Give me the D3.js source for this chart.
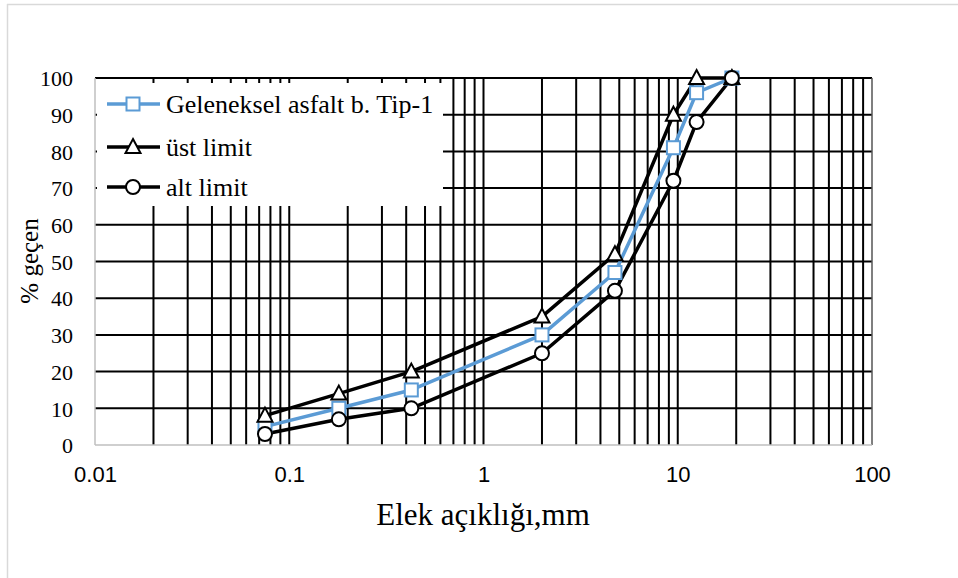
<!DOCTYPE html>
<html><head><meta charset="utf-8">
<script src="https://cdn.jsdelivr.net/npm/d3@7/dist/d3.min.js"></script>
<style>body{margin:0;background:#fff}svg{display:block}</style>
</head><body>
<svg id="c" width="958" height="578"></svg>
<script>
const sieves = [0.075, 0.18, 0.425, 2, 4.75, 9.5, 12.5, 19];
const geleneksel = [5, 10, 15, 30, 47, 81, 96, 100];
const ustLimit = [8, 14, 20, 35, 52, 90, 100, 100];
const altLimit = [3, 7, 10, 25, 42, 72, 88, 100];
const xTickLabels = ["0.01", "0.1", "1", "10", "100"];
const xTickValues = [0.01, 0.1, 1, 10, 100];
const yTickValues = [0, 10, 20, 30, 40, 50, 60, 70, 80, 90, 100];
const seriesNames = ["Geleneksel asfalt b. Tip-1", "üst limit", "alt limit"];

const svg = d3.select("#c");
const L = 95, R = 872, T = 78, B = 445;
const x = d3.scaleLog().domain([0.01, 100]).range([L, R]);
const y = d3.scaleLinear().domain([0, 100]).range([B, T]);

// outer frame
svg.append("line").attr("x1", 7.5).attr("x2", 7.5).attr("y1", 4).attr("y2", 578).attr("stroke", "#d9d9d9").attr("stroke-width", 1.5);
svg.append("line").attr("x1", 7).attr("x2", 958).attr("y1", 4.5).attr("y2", 4.5).attr("stroke", "#d9d9d9").attr("stroke-width", 1.5);

// vertical grid lines (log minor)
const vgrid = [];
for (let e = -2; e < 2; e++) for (let m = 1; m <= 9; m++) vgrid.push(m * Math.pow(10, e));
const g = svg.append("g");
g.selectAll("line.v").data(vgrid.filter(v => v > 0.011 && v < 99)).join("line")
  .attr("x1", d => x(d)).attr("x2", d => x(d)).attr("y1", T).attr("y2", B)
  .attr("stroke", "#000").attr("stroke-width", 2);
g.selectAll("line.h").data(yTickValues.filter(v => v > 0)).join("line")
  .attr("x1", L).attr("x2", R).attr("y1", d => y(d)).attr("y2", d => y(d))
  .attr("stroke", "#000").attr("stroke-width", 2);
// right edge
svg.append("line").attr("x1", R).attr("x2", R).attr("y1", T).attr("y2", B).attr("stroke", "#555").attr("stroke-width", 1.5);
// axes lines (gray)
svg.append("line").attr("x1", L).attr("x2", L).attr("y1", T).attr("y2", B).attr("stroke", "#bfbfbf").attr("stroke-width", 1.5);
svg.append("line").attr("x1", L).attr("x2", R).attr("y1", B).attr("y2", B).attr("stroke", "#bfbfbf").attr("stroke-width", 1.5);

// axes tick labels via d3 axes
const xAxis = d3.axisBottom(x).tickValues(xTickValues).tickFormat((d, i) => xTickLabels[i]).tickSize(0).tickPadding(26);
const xa = svg.append("g").attr("transform", `translate(0,${B})`).call(xAxis);
xa.select(".domain").remove();
xa.selectAll("text").attr("font-family", "Liberation Sans, Arial, sans-serif").attr("font-size", 22).attr("fill", "#000").attr("dy", "0.5em");

const yAxis = d3.axisLeft(y).tickValues(yTickValues).tickSize(0).tickPadding(22);
const ya = svg.append("g").attr("transform", `translate(${L},0)`).call(yAxis);
ya.select(".domain").remove();
ya.selectAll("text").attr("font-family", "Liberation Serif, Times New Roman, serif").attr("font-size", 22).attr("fill", "#000").attr("dy", "0.35em");

// titles
svg.append("text").attr("x", 483).attr("y", 525).attr("text-anchor", "middle")
  .attr("font-family", "Liberation Serif, Times New Roman, serif").attr("font-size", 31).text("Elek açıklığı,mm");
svg.append("text").attr("transform", "translate(38,261) rotate(-90)").attr("text-anchor", "middle")
  .attr("font-family", "Liberation Serif, Times New Roman, serif").attr("font-size", 25).text("% geçen");

// legend box
svg.append("rect").attr("x", 97).attr("y", 83).attr("width", 346).attr("height", 123).attr("fill", "#fff");

const blue = "#5B9BD5";
const series = [
  { name: seriesNames[0], vals: geleneksel, color: blue, shape: "square" },
  { name: seriesNames[1], vals: ustLimit, color: "#000", shape: "triangle" },
  { name: seriesNames[2], vals: altLimit, color: "#000", shape: "circle" }
];
const line = d3.line().x(d => x(d[0])).y(d => y(d[1]));
series.forEach(s => {
  svg.append("path").attr("d", line(sieves.map((v, i) => [v, s.vals[i]])))
    .attr("fill", "none").attr("stroke", s.color).attr("stroke-width", 3.5).attr("stroke-linejoin", "round");
});
function marker(sel, shape, color) {
  if (shape === "square") {
    sel.append("rect").attr("x", -6.5).attr("y", -6.5).attr("width", 13).attr("height", 13)
      .attr("fill", "#fff").attr("stroke", color).attr("stroke-width", 2);
  } else if (shape === "triangle") {
    sel.append("path").attr("d", "M0,-8 L7.5,6 L-7.5,6 Z").attr("fill", "#fff").attr("stroke", color).attr("stroke-width", 2);
  } else {
    sel.append("circle").attr("r", 7).attr("fill", "#fff").attr("stroke", color).attr("stroke-width", 2);
  }
}
series.forEach(s => {
  sieves.forEach((v, i) => {
    const m = svg.append("g").attr("transform", `translate(${x(v)},${y(s.vals[i])})`);
    marker(m, s.shape, s.color);
  });
});

// legend entries
const legY = [104, 147, 187];
series.forEach((s, i) => {
  const lg = svg.append("g").attr("transform", `translate(0,${legY[i]})`);
  lg.append("line").attr("x1", 107).attr("x2", 160).attr("y1", 0).attr("y2", 0).attr("stroke", s.color).attr("stroke-width", 3.5);
  const m = lg.append("g").attr("transform", "translate(133,0)");
  marker(m, s.shape, s.color);
  lg.append("text").attr("x", 166).attr("y", 0).attr("dy", "0.33em")
    .attr("font-family", "Liberation Serif, Times New Roman, serif").attr("font-size", 26).text(s.name);
});
</script>
</body></html>
